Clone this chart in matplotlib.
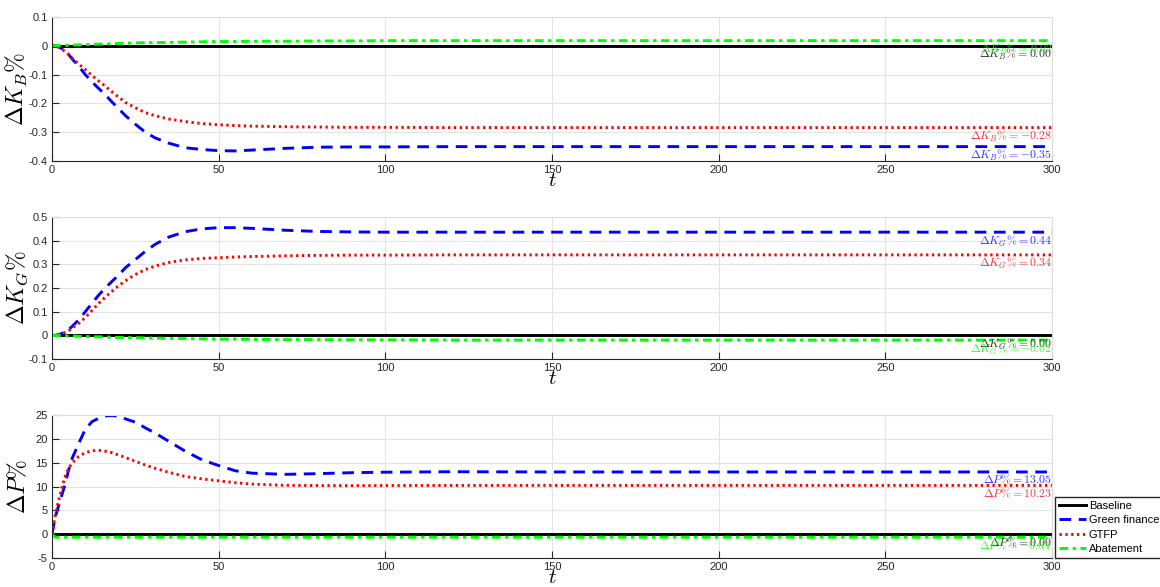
import matplotlib
matplotlib.use("Agg")
import matplotlib.pyplot as plt

plt.rcParams['font.family'] = ['Liberation Sans', 'DejaVu Sans']
plt.rcParams['mathtext.fontset'] = 'cm'
plt.rcParams['axes.unicode_minus'] = False

# time grid shared by all series
t = [0, 1, 2, 3, 4, 5, 6, 8, 10, 12, 14, 16, 18, 20, 22, 25, 28, 31, 35, 40,
     45, 50, 55, 60, 70, 80, 90, 100, 120, 150, 200, 250, 300]

scenarios = ['Baseline', 'Green finance', 'GTFP', 'Abatement']

# capital stock of brown firms, % deviation
kb_base = [0.0] * len(t)
kb_green = [0, 0, -0.003, -0.01, -0.02, -0.03, -0.045, -0.07, -0.1, -0.125, -0.148,
            -0.17, -0.195, -0.218, -0.242, -0.272, -0.3, -0.32, -0.338, -0.354,
            -0.36, -0.364, -0.365, -0.362, -0.356, -0.352, -0.351, -0.351, -0.35,
            -0.35, -0.35, -0.35, -0.35]
kb_gtfp = [0, 0, -0.005, -0.012, -0.02, -0.03, -0.042, -0.063, -0.082, -0.103,
           -0.122, -0.14, -0.16, -0.178, -0.196, -0.215, -0.232, -0.243, -0.254,
           -0.263, -0.27, -0.274, -0.277, -0.279, -0.281, -0.282, -0.283, -0.283,
           -0.284, -0.284, -0.284, -0.284, -0.284]
kb_abate = [0, 0.0005, 0.001, 0.0015, 0.002, 0.002, 0.003, 0.003, 0.004, 0.005,
            0.006, 0.006, 0.007, 0.008, 0.009, 0.01, 0.011, 0.011, 0.012, 0.013,
            0.014, 0.015, 0.015, 0.016, 0.016, 0.017, 0.017, 0.018, 0.018, 0.018,
            0.018, 0.018, 0.018]

# capital stock of green firms, % deviation
kg_base = [0.0] * len(t)
kg_green = [0, 0, 0.003, 0.008, 0.015, 0.025, 0.037, 0.065, 0.1, 0.135, 0.17, 0.2,
            0.228, 0.255, 0.285, 0.32, 0.355, 0.385, 0.415, 0.438, 0.45, 0.455,
            0.455, 0.452, 0.444, 0.439, 0.437, 0.436, 0.436, 0.436, 0.436, 0.436,
            0.436]
kg_gtfp = [0, 0, 0.003, 0.007, 0.013, 0.02, 0.03, 0.05, 0.075, 0.105, 0.135, 0.162,
           0.186, 0.21, 0.23, 0.257, 0.278, 0.293, 0.308, 0.319, 0.325, 0.328,
           0.331, 0.333, 0.336, 0.338, 0.339, 0.339, 0.34, 0.34, 0.34, 0.34, 0.34]
kg_abate = [0, -0.001, -0.001, -0.002, -0.002, -0.003, -0.003, -0.004, -0.005,
            -0.006, -0.006, -0.007, -0.008, -0.009, -0.009, -0.01, -0.011, -0.012,
            -0.013, -0.014, -0.015, -0.016, -0.016, -0.017, -0.018, -0.018, -0.019,
            -0.019, -0.02, -0.02, -0.02, -0.02, -0.02]

# pollution, % deviation
p_base = [0.0] * len(t)
p_green = [0, 3.6, 6.0, 8.3, 10.6, 13.5, 15.8, 19.0, 22.0, 23.6, 24.3, 24.8, 24.9,
           24.7, 24.2, 23.5, 22.3, 21.2, 19.5, 17.4, 15.6, 14.4, 13.3, 12.8, 12.55,
           12.7, 12.9, 13.0, 13.1, 13.05, 13.05, 13.05, 13.05]
p_gtfp = [0, 4.0, 7.1, 9.8, 12.2, 13.8, 14.9, 16.3, 17.1, 17.5, 17.6, 17.4, 17.1,
          16.6, 16.1, 15.3, 14.5, 13.8, 13.0, 12.1, 11.6, 11.2, 10.8, 10.5, 10.25,
          10.2, 10.18, 10.2, 10.22, 10.23, 10.23, 10.23, 10.23]
p_abate = [0] + [-0.64] * (len(t) - 1)

panels = [
    ('K_B', [kb_base, kb_green, kb_gtfp, kb_abate], [-0.4, 0.1],
     [-0.4, -0.3, -0.2, -0.1, 0, 0.1]),
    ('K_G', [kg_base, kg_green, kg_gtfp, kg_abate], [-0.1, 0.5],
     [-0.1, 0, 0.1, 0.2, 0.3, 0.4, 0.5]),
    ('P', [p_base, p_green, p_gtfp, p_abate], [-5, 25],
     [-5, 0, 5, 10, 15, 20, 25]),
]

colors = ['black', 'blue', 'red', (0, 1, 0)]
styles = ['-', (0, (4, 2.6)), (0, (0.8, 1.2)), (0, (3, 1.5, 1.2, 1.5))]

fig = plt.figure(figsize=(11.6, 5.87), dpi=100)
boxes = [[0.0448, 0.7257, 0.862, 0.2453],
         [0.0448, 0.3884, 0.862, 0.2419],
         [0.0448, 0.0494, 0.862, 0.2436]]

handles = []
for (name, series, ylim, yticks), box in zip(panels, boxes):
    ax = fig.add_axes(box)
    handles = []
    for y, c, ls, lab in zip(series, colors, styles, scenarios):
        h, = ax.plot(t, y, color=c, linestyle=ls, linewidth=2.1, label=lab)
        handles.append(h)
    # final-period values written at the right edge
    for y, c in zip(series, colors):
        val = y[-1]
        txt = f'{val:.2f}'
        if txt == '-0.00':
            txt = '0.00'
        ax.text(300, val - (ylim[1] - ylim[0]) * 0.01,
                rf'$\Delta {name}\% = {txt}$', color=c, fontsize=8.5,
                ha='right', va='top', alpha=0.8)
    ax.set_xlim(0, 300)
    ax.set_ylim(ylim)
    ax.set_xticks(range(0, 301, 50))
    ax.set_yticks(yticks)
    ax.set_yticklabels([f'{v:g}' for v in yticks])
    ax.grid(True, color='#e3e3e3', linewidth=0.8)
    ax.set_axisbelow(True)
    for side in ['top', 'right']:
        ax.spines[side].set_color('#dcdcdc')
    for side in ['left', 'bottom']:
        ax.spines[side].set_color('#262626')
    ax.tick_params(direction='in', length=5, labelsize=8, colors='#262626',
                   pad=3)
    ax.set_xlabel(r'$t$', fontsize=15, labelpad=-3)
    ax.set_ylabel(rf'$\Delta {name}\%$', fontsize=17)
    ax.yaxis.set_label_coords(-0.022, 0.5)

fig.legend(handles, scenarios, loc='lower left',
           bbox_to_anchor=(1055 / 1160, 29 / 587), fontsize=8,
           frameon=True, fancybox=False, edgecolor='#262626', framealpha=1,
           handlelength=2.4, borderpad=0.35, labelspacing=0.4,
           handletextpad=0.3, borderaxespad=0)

fig.savefig('out.png', dpi=100)
